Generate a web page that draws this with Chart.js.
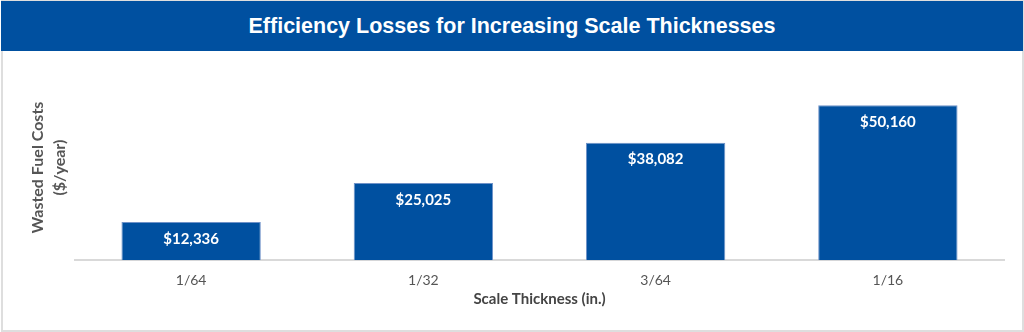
<!DOCTYPE html>
<html>
<head>
<meta charset="utf-8">
<script src="https://cdn.jsdelivr.net/npm/chart.js@4"></script>
<style>
  body { margin: 0; background: #fff; }
  .box {
    position: absolute; left: 1px; top: 0;
    width: 1019px; height: 329px;
    border: 2px solid #dedede; border-top: 1px solid #dedede;
    background: #fff;
  }
  .banner {
    height: 50px; background: #0050a0; color: #fff;
    font-family: "Liberation Sans Narrow", "Liberation Sans", sans-serif;
    font-weight: bold; font-size: 21.5px;
    display: flex; align-items: center; justify-content: center;
    margin-left: -2px; margin-right: -1px;
  }
  .wrap { position: relative; width: 1019px; height: 278px; }
</style>
</head>
<body>
<div class="box">
  <div class="banner">Efficiency Losses for Increasing Scale Thicknesses</div>
  <div class="wrap"><canvas class="my-chart"></canvas></div>
</div>
<script>
const thickness = ["1/64", "1/32", "3/64", "1/16"];
const wastedCost = [12336, 25025, 38082, 50160];

const barLabels = {
    id: "barLabels",
    afterDatasetsDraw(chart) {
        const ctx = chart.ctx;
        const meta = chart.getDatasetMeta(0);
        ctx.save();
        ctx.fillStyle = "#fff";
        ctx.font = "bold 15px Lato";
        ctx.textAlign = "center";
        ctx.textBaseline = "middle";
        meta.data.forEach((bar, i) => {
            ctx.fillText("$" + wastedCost[i].toLocaleString("en-US"), bar.x, bar.y + 17);
        });
        ctx.restore();
    }
}

const myChart = document.querySelector(".my-chart");

new Chart(myChart, {
    type: "bar",
    data: {
        labels: thickness,
        datasets: [
            {
                label: "Wasted fuel costs",
                data: wastedCost,
                backgroundColor: "#0050a0",
                borderColor: "#6f92c8",
                borderWidth: 1,
                categoryPercentage: 1,
                barPercentage: 0.6
            }
        ]
    },
    options: {
        responsive: true,
        maintainAspectRatio: false,
        animation: false,
        layout: {
            padding: { left: 16, right: 18, top: 24, bottom: 21 }
        },
        plugins: {
            legend: { display: false },
            tooltip: { enabled: false }
        },
        scales: {
            x: {
                grid: { display: false, drawTicks: false },
                border: { display: true, color: "#d9d9d9", width: 2 },
                ticks: {
                    color: "#555",
                    padding: 12,
                    font: { family: "Lato", size: 14 }
                },
                title: {
                    display: true,
                    text: "Scale Thickness (in.)",
                    color: "#444",
                    padding: { top: -11, bottom: 0 },
                    font: { family: "Lato", size: 15, weight: "bold", lineHeight: 1.2 }
                }
            },
            y: {
                min: 0,
                max: 60000,
                grid: { display: false, drawTicks: false },
                border: { display: false },
                ticks: { display: false },
                title: {
                    display: true,
                    text: ["Wasted Fuel Costs", "($/year)"],
                    color: "#555",
                    padding: { top: 8, bottom: 4 },
                    font: { family: "Lato", size: 16, weight: "bold", lineHeight: 1.375 }
                }
            }
        }
    },
    plugins: [barLabels]
})
</script>
</body>
</html>
